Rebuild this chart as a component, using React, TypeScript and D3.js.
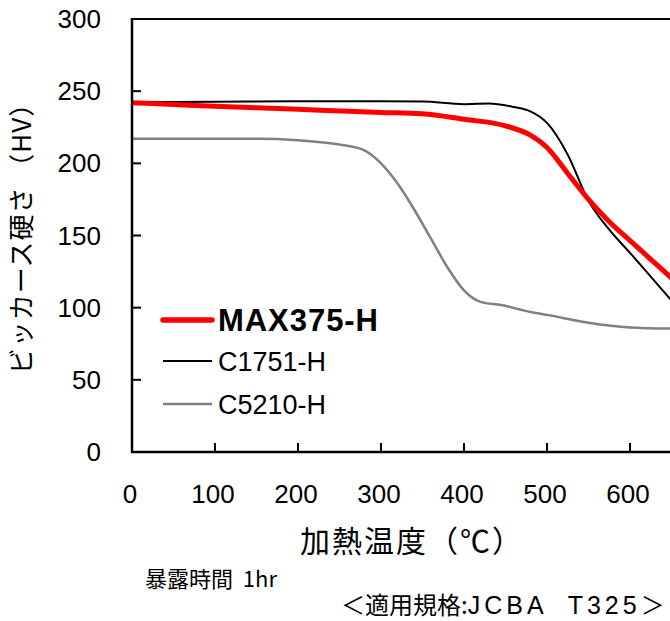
import React, { useEffect, useRef } from 'react';
import * as d3 from 'd3';

// heating temperature (°C) and Vickers hardness (HV)
const maxTemps = [0, 50, 100, 150, 200, 250, 300, 350, 400, 450, 480, 500, 525, 550, 575, 600, 625, 650];
const maxValues = [242, 240.8, 239.6, 238.5, 237.4, 236.3, 235.3, 234.4, 230.5, 226, 219.5, 211, 193, 175, 159.5, 146.5, 133.5, 120.5];

const c1751Temps = [0, 100, 200, 300, 350, 400, 430, 460, 480, 500, 525, 550, 575, 600, 625, 650];
const c1751Values = [242.5, 242.6, 243, 243, 242.8, 241, 241.5, 239, 236, 228, 206, 174, 154, 138, 121.5, 105];

const c5210Temps = [0, 100, 150, 200, 250, 280, 300, 320, 340, 360, 380, 400, 420, 445, 480, 500, 550, 600, 650];
const c5210Values = [217, 217, 217, 216, 213, 209, 200, 186, 168, 148, 128, 112, 104, 101.8, 97, 95, 89.5, 86.3, 85.5];

const seriesNames = ['MAX375-H', 'C1751-H', 'C5210-H'];
const xTicks = [0, 100, 200, 300, 400, 500, 600, 700];
const yTicks = [0, 50, 100, 150, 200, 250, 300];

function App() {
    const ref = useRef(null);

    useEffect(() => {
        drawChart();
    });

    function drawChart() {
        const root = d3.select(ref.current);
        root.selectAll('*').remove();

        const font = '"Liberation Sans", Arial, "Noto Sans CJK JP", sans-serif';
        const jpFont = '"Noto Sans CJK JP", "Liberation Sans", sans-serif';
        const W = 670;

        const x = d3.scaleLinear().domain([0, 700]).range([132, 713]);
        const y = d3.scaleLinear().domain([0, 300]).range([452, 19]);

        const svg = root
            .append('svg')
            .attr('width', W)
            .attr('height', 621)
            .style('position', 'absolute')
            .style('left', 0)
            .style('top', 0)
            .style('background', '#ffffff');

        const series = [
            { name: seriesNames[0], temps: maxTemps, values: maxValues, color: '#ff0000', width: 5 },
            { name: seriesNames[1], temps: c1751Temps, values: c1751Values, color: '#000000', width: 2 },
            { name: seriesNames[2], temps: c5210Temps, values: c5210Values, color: '#808080', width: 2.5 },
        ];

        // Plot frame top border
        svg.append('line')
            .attr('x1', x(0)).attr('x2', W)
            .attr('y1', y(300)).attr('y2', y(300))
            .attr('stroke', '#000').attr('stroke-width', 2);

        // Y ticks (inward)
        svg.selectAll('.ytick')
            .data(yTicks)
            .enter()
            .append('line')
            .attr('x1', x(0)).attr('x2', x(0) + 9)
            .attr('y1', d => y(d)).attr('y2', d => y(d))
            .attr('stroke', '#000').attr('stroke-width', 2);

        svg.selectAll('.ylabel')
            .data(yTicks)
            .enter()
            .append('text')
            .attr('x', 101)
            .attr('y', d => y(d))
            .attr('dy', '0.35em')
            .attr('text-anchor', 'end')
            .style('font-family', font)
            .style('font-size', '26px')
            .text(d => d);

        // X ticks (inward)
        svg.selectAll('.xtick')
            .data(xTicks.filter(d => x(d) < W))
            .enter()
            .append('line')
            .attr('x1', d => x(d)).attr('x2', d => x(d))
            .attr('y1', y(0)).attr('y2', y(0) - 9)
            .attr('stroke', '#000').attr('stroke-width', 2);

        svg.selectAll('.xlabel')
            .data(xTicks.filter(d => x(d) + 25 < W))
            .enter()
            .append('text')
            .attr('x', d => x(d) - 2)
            .attr('y', 503)
            .attr('text-anchor', 'middle')
            .style('font-family', font)
            .style('font-size', '26px')
            .text(d => d);

        // Curves
        const line = d3.line()
            .x(d => x(d[0]))
            .y(d => y(d[1]))
            .curve(d3.curveMonotoneX);

        series.slice().reverse().forEach(s => {
            svg.append('path')
                .datum(s.temps.map((t, i) => [t, s.values[i]]))
                .attr('d', line)
                .attr('fill', 'none')
                .attr('stroke', s.color)
                .attr('stroke-width', s.width)
                .attr('stroke-linejoin', 'round');
        });

        // Axis lines on top
        svg.append('line')
            .attr('x1', x(0)).attr('x2', x(0))
            .attr('y1', y(300) - 1).attr('y2', y(0) + 1)
            .attr('stroke', '#000').attr('stroke-width', 2.5);
        svg.append('line')
            .attr('x1', x(0) - 1).attr('x2', W)
            .attr('y1', y(0)).attr('y2', y(0))
            .attr('stroke', '#000').attr('stroke-width', 2.5);

        // Legend
        const legendY = [320, 361, 404];
        series.forEach((s, i) => {
            svg.append('line')
                .attr('x1', 163).attr('x2', 212)
                .attr('y1', legendY[i]).attr('y2', legendY[i])
                .attr('stroke', s.color)
                .attr('stroke-width', i === 0 ? 5.5 : s.width)
                .attr('stroke-linecap', i === 0 ? 'round' : 'butt');
            svg.append('text')
                .attr('x', 218)
                .attr('y', legendY[i])
                .attr('dy', '0.36em')
                .style('font-family', font)
                .style('font-size', i === 0 ? '31px' : '27px')
                .style('font-weight', i === 0 ? 'bold' : 'normal')
                .attr('textLength', i === 0 ? 160 : null)
                .text(s.name);
        });

        // Axis titles
        svg.append('text')
            .attr('transform', 'translate(22, 232) rotate(-90)')
            .attr('text-anchor', 'middle')
            .attr('dy', '0.35em')
            .style('font-family', jpFont)
            .style('font-size', '26px')
            .style('letter-spacing', '1px')
            .style('white-space', 'pre')
            .text('ビッカース硬さ （HV）');

        svg.append('text')
            .attr('x', 300)
            .attr('y', 541)
            .attr('dy', '0.35em')
            .style('font-family', jpFont)
            .style('font-size', '30px')
            .style('letter-spacing', '2px')
            .text('加熱温度（℃）');

        svg.append('text')
            .attr('x', 145)
            .attr('y', 579)
            .attr('dy', '0.35em')
            .style('font-family', jpFont)
            .style('font-size', '22px')
            .style('white-space', 'pre')
            .text('暴露時間  1hr');

        const note = svg.append('text')
            .attr('x', 341)
            .attr('y', 606)
            .attr('dy', '0.35em')
            .style('font-family', jpFont)
            .style('font-size', '24px')
            .style('white-space', 'pre');
        note.append('tspan').text('＜適用規格:');
        note.append('tspan')
            .style('font-family', font)
            .style('font-size', '25px')
            .style('letter-spacing', '4px')
            .text('JCBA  T325');
        note.append('tspan').text('＞');
    };

    return <div ref={ref} />;
}

export default App;
